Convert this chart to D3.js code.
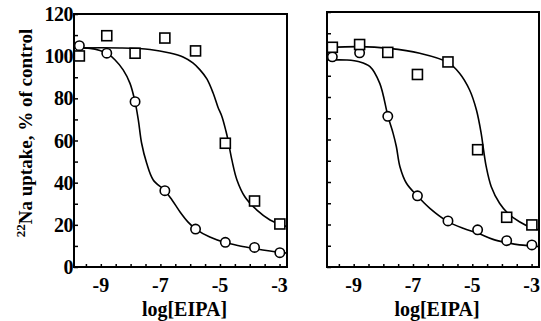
<!DOCTYPE html>
<html><head><meta charset="utf-8">
<script src="https://cdn.jsdelivr.net/npm/d3@7"></script>
<style>body{margin:0;background:#fff} svg{display:block}</style>
</head><body><svg id="c" width="541" height="321"></svg>
<script>
// ---- data ----
const logEIPA = [-9.72, -8.8, -7.85, -6.85, -5.82, -4.82, -3.84, -2.99];
const xTickLabels = [-9, -7, -5, -3];
const yTickLabels = [0, 20, 40, 60, 80, 100, 120];

const leftCircles = [105.0, 101.4, 78.4, 36.2, 18.0, 11.7, 9.3, 6.8];
const leftSquares = [100.1, 109.7, 101.4, 108.6, 102.5, 58.7, 31.3, 20.4];
const rightCircles = [98.9, 100.8, 70.9, 33.5, 21.7, 17.5, 12.4, 10.4];
const rightSquares = [103.4, 104.7, 101.0, 90.6, 96.5, 55.2, 23.4, 19.8];

// fitted curves as drawn in the figure
const leftCircleFitX = [-9.9, -9.36, -9.03, -8.79, -8.52, -8.25, -8.02, -7.85, -7.74, -7.63, -7.46, -7.24, -6.85, -6.61, -6.34, -6.07, -5.81, -5.34, -4.83, -4.33, -3.86, -3.32, -2.75];
const leftCircleFitY = [103.9, 103.7, 102.7, 101.3, 98.2, 93.5, 87.1, 78.3, 69.7, 58.7, 49.2, 41.3, 36.2, 31.8, 26.1, 21.3, 18.0, 14.2, 11.6, 10.0, 8.8, 7.6, 6.6];
const leftSquareFitX = [-9.9, -8.36, -7.35, -6.68, -6.24, -5.91, -5.67, -5.44, -5.23, -5.07, -4.93, -4.80, -4.73, -4.60, -4.43, -4.16, -3.76, -3.32, -2.92, -2.75];
const leftSquareFitY = [103.9, 103.9, 103.2, 101.5, 99.6, 96.8, 93.5, 89.2, 82.5, 75.9, 71.2, 64.5, 60.2, 50.8, 41.3, 33.2, 27.0, 22.3, 19.9, 19.2];
const rightCircleFitX = [-9.86, -9.24, -8.81, -8.45, -8.12, -7.84, -7.67, -7.56, -7.44, -7.22, -6.85, -6.43, -5.85, -5.31, -4.81, -4.30, -3.82, -3.41, -2.96, -2.75];
const rightCircleFitY = [97.4, 97.4, 96.6, 94.3, 86.4, 70.7, 62.9, 56.6, 47.2, 39.4, 33.4, 27.6, 21.6, 18.2, 15.9, 13.0, 11.4, 10.4, 9.9, 9.6];
const rightSquareFitX = [-9.86, -8.81, -7.81, -6.77, -5.82, -5.43, -5.09, -4.86, -4.70, -4.62, -4.53, -4.36, -4.08, -3.80, -3.41, -2.96, -2.75];
const rightSquareFitY = [103.2, 103.7, 102.9, 100.6, 96.3, 91.2, 83.3, 73.9, 62.9, 55.1, 47.2, 37.8, 30.0, 25.3, 21.3, 18.2, 17.4];

// ---- layout ----
const svg = d3.select('#c');
const FONT = '"Liberation Serif", "Times New Roman", serif';
const xDomain = [-9.9, -2.75];
const yDomain = [0, 120];

const panels = [
  {x0: 74, x1: 287, y0: 267, y1: 14, labels: true,
   circles: leftCircles, squares: leftSquares,
   cfx: leftCircleFitX, cfy: leftCircleFitY, sfx: leftSquareFitX, sfy: leftSquareFitY},
  {x0: 327, x1: 539, y0: 267, y1: 12, labels: false,
   circles: rightCircles, squares: rightSquares,
   cfx: rightCircleFitX, cfy: rightCircleFitY, sfx: rightSquareFitX, sfy: rightSquareFitY}
];

panels.forEach(p => {
  const x = d3.scaleLinear().domain(xDomain).range([p.x0, p.x1]);
  const y = d3.scaleLinear().domain(yDomain).range([p.y0, p.y1]);
  const g = svg.append('g');

  // y ticks (inward, every 10)
  const yAxis = d3.axisRight(y).tickValues(d3.range(0, 121, 10)).tickSize(4).tickFormat('');
  g.append('g').attr('transform', `translate(${p.x0},0)`).call(yAxis)
    .call(s => s.select('.domain').remove())
    .call(s => s.selectAll('line').attr('stroke', '#000').attr('stroke-width', 1.5));

  // x ticks (inward, every 0.5)
  const xt = d3.range(-9.5, -2.9, 0.5);
  const xAxis = d3.axisTop(x).tickValues(xt).tickSize(3).tickFormat('');
  g.append('g').attr('transform', `translate(0,${p.y0})`).call(xAxis)
    .call(s => s.select('.domain').remove())
    .call(s => s.selectAll('line').attr('stroke', '#000').attr('stroke-width', 1.5));

  // x tick labels
  g.selectAll('.xl').data(xTickLabels).join('text')
    .attr('x', d => x(d)).attr('y', 292)
    .attr('text-anchor', 'middle')
    .attr('font-family', FONT).attr('font-weight', 'bold').attr('font-size', 20)
    .text(d => d);

  if (p.labels) {
    g.selectAll('.yl').data(yTickLabels).join('text')
      .attr('x', p.x0 - 1).attr('y', d => y(d) + 7)
      .attr('text-anchor', 'end')
      .attr('font-family', FONT).attr('font-weight', 'bold').attr('font-size', 20)
      .attr('letter-spacing', -0.5)
      .text(d => d);
  }

  // x title
  g.append('text').attr('x', (p.x0 + p.x1) / 2 + 4).attr('y', 316)
    .attr('text-anchor', 'middle')
    .attr('font-family', FONT).attr('font-weight', 'bold').attr('font-size', 20)
    .text('log[EIPA]');

  // fit curves
  const line = d3.line().x(d => x(d[0])).y(d => y(d[1])).curve(d3.curveCatmullRom.alpha(0.5));
  [[p.cfx, p.cfy], [p.sfx, p.sfy]].forEach(([fx, fy]) => {
    g.append('path').attr('d', line(fx.map((v, i) => [v, fy[i]])))
      .attr('fill', 'none').attr('stroke', '#000').attr('stroke-width', 1.6);
  });

  // markers
  g.selectAll('.circ').data(logEIPA.map((v, i) => [v, p.circles[i]])).join('circle')
    .attr('cx', d => x(d[0])).attr('cy', d => y(d[1])).attr('r', 4.7)
    .attr('fill', '#fff').attr('stroke', '#000').attr('stroke-width', 1.6);
  g.selectAll('.sq').data(logEIPA.map((v, i) => [v, p.squares[i]])).join('rect')
    .attr('x', d => x(d[0]) - 5).attr('y', d => y(d[1]) - 5)
    .attr('width', 10).attr('height', 10)
    .attr('fill', '#fff').attr('stroke', '#000').attr('stroke-width', 1.6);

  // frame
  g.append('rect').attr('x', p.x0).attr('y', p.y1)
    .attr('width', p.x1 - p.x0).attr('height', p.y0 - p.y1)
    .attr('fill', 'none').attr('stroke', '#000').attr('stroke-width', 2);
});

// y title with superscript mass number
const yt = svg.append('text')
  .attr('transform', 'translate(32,133) rotate(-90)')
  .attr('text-anchor', 'middle')
  .attr('font-family', FONT).attr('font-weight', 'bold').attr('font-size', 19);
yt.append('tspan').attr('font-size', 13).attr('dy', -7).text('22');
yt.append('tspan').attr('dy', 7).text('Na uptake, % of control');
</script>
</body></html>
